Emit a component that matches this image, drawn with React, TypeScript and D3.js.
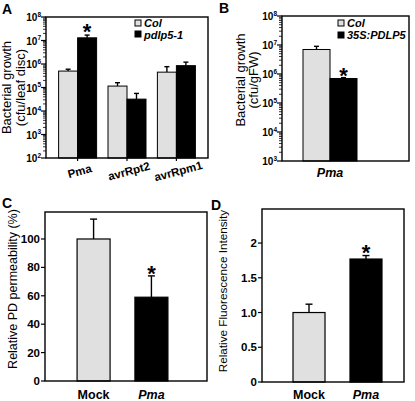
import React from 'react';
import * as d3 from 'd3';

// ---------- Data ----------
// Panel A
const groupsA = ['Pma', 'avrRpt2', 'avrRpm1'];
const colA = [5e5, 1.15e5, 4.5e5];
const colHiA = [6e5, 1.6e5, 7.7e5];
const mutA = [1.3e7, 3.2e4, 8.5e5];
const mutHiA = [1.7e7, 5.6e4, 1.2e6];
const legendA = ['Col', 'pdlp5-1'];
const expsA = [2, 3, 4, 5, 6, 7, 8];
// Panel B
const groupsB = ['Pma'];
const colB = [7e6];
const colHiB = [9e6];
const oxB = [7e5];
const oxHiB = [7.5e5];
const legendB = ['Col', '35S:PDLP5'];
const expsB = [3, 4, 5, 6, 7, 8];
// Panel C
const catsC = ['Mock', 'Pma'];
const valsC = [100, 59];
const hiC = [114, 74];
const ticksC = [0, 20, 40, 60, 80, 100];
// Panel D
const catsD = ['Mock', 'Pma'];
const valsD = [1.0, 1.77];
const hiD = [1.12, 1.82];
const ticksD = [0, 0.5, 1.0, 1.5, 2];
const tickLabelsD = ['0', '0.5', '1.0', '1.5', '2'];

const FONT = '"Liberation Sans", Arial, Helvetica, sans-serif';
const LIGHT = '#e0e0e0';

function ErrorBar({ x, y0, y1, cap }: { x: number; y0: number; y1: number; cap: number }) {
  return (
    <g stroke="#000" strokeWidth={1.4}>
      <line x1={x} x2={x} y1={y0} y2={y1} />
      <line x1={x - cap / 2} x2={x + cap / 2} y1={y1} y2={y1} />
    </g>
  );
}

function Star({ x, y, size }: { x: number; y: number; size: number }) {
  return (
    <text x={x} y={y + size * 0.55} textAnchor="middle" fontSize={size} fontWeight="bold" fontFamily={FONT}>
      *
    </text>
  );
}

function LogAxis({ scale, x, exps }: { scale: any; x: number; exps: number[] }) {
  const ticks: number[] = scale.ticks();
  return (
    <g>
      {ticks.map((t, i) => {
        const lg = Math.log10(t);
        const major = Math.abs(lg - Math.round(lg)) < 1e-9;
        const y = scale(t);
        return (
          <line key={i} x1={x} x2={x - (major ? 5 : 3)} y1={y} y2={y} stroke="#000" strokeWidth={major ? 1.2 : 0.8} />
        );
      })}
      {exps.map((e) => (
        <text key={e} x={x - 5} y={scale(Math.pow(10, e)) + 4} textAnchor="end" fontSize={10} fontWeight="bold" fontFamily={FONT}>
          10
          <tspan dy={-4.5} fontSize={6.5}>{e}</tspan>
        </text>
      ))}
    </g>
  );
}

function PanelA() {
  const L = 46, R = 208, T = 17, B = 158;
  const y = d3.scaleLog().domain([1e2, 1e8]).range([B, T]);
  const x = d3.scalePoint<string>().domain(groupsA).range([L, R]).padding(0.64);
  const bw = 19;
  return (
    <g>
      <text x={2} y={14} fontSize={14} fontWeight="bold" fontFamily={FONT}>A</text>
      {groupsA.map((g, i) => {
        const c = x(g)!;
        return (
          <g key={g}>
            <ErrorBar x={c - bw / 2} y0={y(colA[i])} y1={y(colHiA[i])} cap={5} />
            <ErrorBar x={c + bw / 2} y0={y(mutA[i])} y1={y(mutHiA[i])} cap={5} />
            <rect x={c - bw} y={y(colA[i])} width={bw} height={B - y(colA[i])} fill={LIGHT} stroke="#000" strokeWidth={1} />
            <rect x={c} y={y(mutA[i])} width={bw} height={B - y(mutA[i])} fill="#000" stroke="#000" strokeWidth={1} />
            <line x1={c} x2={c} y1={B} y2={B + 3} stroke="#000" strokeWidth={1.2} />
            <text
              transform={`translate(${c + 3},${175}) rotate(-15)`}
              textAnchor="middle"
              fontSize={11.5}
              fontWeight="bold"
              fontFamily={FONT}
            >
              {g}
            </text>
          </g>
        );
      })}
      <Star x={x(groupsA[0])! + bw / 2} y={27} size={22} />
      <rect x={L} y={T} width={R - L} height={B - T} fill="none" stroke="#000" strokeWidth={1.4} />
      <LogAxis scale={y} x={L} exps={expsA} />
      {/* legend */}
      <rect x={135} y={20} width={6} height={6} fill={LIGHT} stroke="#000" strokeWidth={1} />
      <rect x={135} y={31} width={6} height={6} fill="#000" stroke="#000" strokeWidth={1} />
      <text x={144} y={26.5} fontSize={11} fontWeight="bold" fontStyle="italic" fontFamily={FONT}>{legendA[0]}</text>
      <text x={144} y={38.5} fontSize={11} fontWeight="bold" fontStyle="italic" fontFamily={FONT}>{legendA[1]}</text>
      {/* y label */}
      <text transform={`translate(${11},${(T + B) / 2}) rotate(-90)`} textAnchor="middle" fontSize={13} fontFamily={FONT}>
        Bacterial growth
      </text>
      <text transform={`translate(${25},${(T + B) / 2}) rotate(-90)`} textAnchor="middle" fontSize={13} fontFamily={FONT}>
        (cfu/leaf disc)
      </text>
    </g>
  );
}

function PanelB() {
  const L = 282, R = 409, T = 16, B = 161;
  const y = d3.scaleLog().domain([1e3, 1e8]).range([B, T]);
  const x = d3.scalePoint<string>().domain(groupsB).range([L, 378]).padding(0.5);
  const bw = 27;
  return (
    <g>
      <text x={219} y={13} fontSize={14} fontWeight="bold" fontFamily={FONT}>B</text>
      {groupsB.map((g, i) => {
        const c = x(g)!;
        return (
          <g key={g}>
            <ErrorBar x={c - bw / 2} y0={y(colB[i])} y1={y(colHiB[i])} cap={5} />
            <ErrorBar x={c + bw / 2} y0={y(oxB[i])} y1={y(oxHiB[i])} cap={5} />
            <rect x={c - bw} y={y(colB[i])} width={bw} height={B - y(colB[i])} fill={LIGHT} stroke="#000" strokeWidth={1} />
            <rect x={c} y={y(oxB[i])} width={bw} height={B - y(oxB[i])} fill="#000" stroke="#000" strokeWidth={1} />
            <text x={c} y={177} textAnchor="middle" fontSize={12.5} fontWeight="bold" fontStyle="italic" fontFamily={FONT}>
              {g}
            </text>
            <Star x={c + bw / 2} y={71} size={22} />
          </g>
        );
      })}
      <rect x={L} y={T} width={R - L} height={B - T} fill="none" stroke="#000" strokeWidth={1.4} />
      <LogAxis scale={y} x={L} exps={expsB} />
      <rect x={338} y={20} width={6} height={6} fill={LIGHT} stroke="#000" strokeWidth={1} />
      <rect x={338} y={32} width={6} height={6} fill="#000" stroke="#000" strokeWidth={1} />
      <text x={347} y={26.5} fontSize={11} fontWeight="bold" fontStyle="italic" fontFamily={FONT}>{legendB[0]}</text>
      <text x={347} y={38.5} fontSize={11} fontWeight="bold" fontStyle="italic" fontFamily={FONT}>{legendB[1]}</text>
      <text transform={`translate(${245},${80}) rotate(-90)`} textAnchor="middle" fontSize={13} fontFamily={FONT}>
        Bacterial growth
      </text>
      <text transform={`translate(${258},${80}) rotate(-90)`} textAnchor="middle" fontSize={13} fontFamily={FONT}>
        (cfu/gFW)
      </text>
    </g>
  );
}

function LinearPanel({
  L, R, T, B, domainMax, cats, vals, hi, ticks, tickLabels, xr, pad, bw, letter, lx, ly, ylabel, ylx, yly, ylfs, starY,
}: any) {
  const y = d3.scaleLinear().domain([0, domainMax]).range([B, T]);
  const x = d3.scalePoint<string>().domain(cats).range(xr).padding(pad);
  return (
    <g>
      <text x={lx} y={ly} fontSize={14} fontWeight="bold" fontFamily={FONT}>{letter}</text>
      {cats.map((c: string, i: number) => {
        const cx = x(c)!;
        return (
          <g key={c}>
            <ErrorBar x={cx} y0={y(vals[i])} y1={y(hi[i])} cap={7} />
            <rect x={cx - bw / 2} y={y(vals[i])} width={bw} height={B - y(vals[i])} fill={i === 0 ? LIGHT : '#000'} stroke="#000" strokeWidth={1.2} />
            <text x={cx} y={399} textAnchor="middle" fontSize={12.5} fontWeight="bold" fontStyle={i === 1 ? 'italic' : 'normal'} fontFamily={FONT}>
              {c}
            </text>
          </g>
        );
      })}
      <Star x={x(cats[1])!} y={starY} size={22} />
      <rect x={L} y={T} width={R - L} height={B - T} fill="none" stroke="#000" strokeWidth={1.4} />
      {ticks.map((t: number, i: number) => (
        <g key={i}>
          <line x1={L} x2={L - 4} y1={y(t)} y2={y(t)} stroke="#000" strokeWidth={1.2} />
          <text x={L - 5} y={y(t) + 4} textAnchor="end" fontSize={11.5} fontWeight="bold" fontFamily={FONT}>
            {tickLabels[i]}
          </text>
        </g>
      ))}
      <text transform={`translate(${ylx},${yly}) rotate(-90)`} textAnchor="middle" fontSize={ylfs} fontFamily={FONT}>
        {ylabel}
      </text>
    </g>
  );
}

export default function App() {
  return (
    <svg width={415} height={401} style={{ position: 'absolute', left: 0, top: 0, background: '#fff' }}>
      <rect x={0} y={0} width={415} height={401} fill="#fff" />
      <PanelA />
      <PanelB />
      <LinearPanel
        L={45} R={207} T={212} B={381} domainMax={119}
        cats={catsC} vals={valsC} hi={hiC} ticks={ticksC} tickLabels={ticksC.map(String)}
        xr={[45, 200]} pad={0.84} bw={33}
        letter="C" lx={2} ly={208}
        ylabel="Relative PD permeability (%)" ylx={17} yly={289} ylfs={12.5}
        starY={269}
      />
      <LinearPanel
        L={262} R={404} T={209} B={382} domainMax={2.49}
        cats={catsD} vals={valsD} hi={hiD} ticks={ticksD} tickLabels={tickLabelsD}
        xr={[262, 413]} pad={0.825} bw={32}
        letter="D" lx={211} ly={210}
        ylabel="Relative Fluorescence Intensity" ylx={227} yly={291} ylfs={11.7}
        starY={248}
      />
    </svg>
  );
}
